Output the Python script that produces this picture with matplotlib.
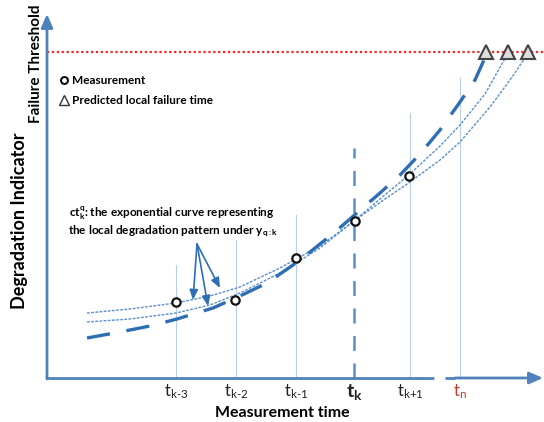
import matplotlib
matplotlib.use("Agg")
import matplotlib.pyplot as plt

plt.rcParams['font.family'] = ['Lato', 'DejaVu Sans']
plt.rcParams['mathtext.fontset'] = 'custom'
plt.rcParams['mathtext.rm'] = 'Lato'
plt.rcParams['mathtext.it'] = 'Lato'
plt.rcParams['mathtext.bf'] = 'Lato:bold'

# Schematic data (time from origin, degradation level above the time axis)
tick_times = [129, 189, 249, 307, 363, 413]
tick_labels = [r'$\mathrm{t_{k\text{-}3}}$', r'$\mathrm{t_{k\text{-}2}}$', r'$\mathrm{t_{k\text{-}1}}$',
               r'$\mathbf{t_k}$', r'$\mathrm{t_{k\text{+}1}}$', r'$\mathrm{t_n}$']
guide_tops = [113, 138, 163, 230, 265, 300]

meas_t = [129, 188, 249, 308, 362]
meas_y = [76, 78, 120, 157, 202]

threshold = 326
fail_t = [439, 461, 481]

# global (thick dashed) degradation curve
glob_t = [40, 73, 103, 130, 166, 193, 220, 246, 263, 288, 311, 333, 353, 373, 393, 413, 428, 437]
glob_y = [40, 46, 52, 59, 70, 82, 95, 113, 126, 146, 166, 185, 203, 224, 248, 276, 298, 318]

# local exponential curves
loc1_t = [40, 83, 129, 163, 193, 233, 273, 307, 333, 363, 393, 413, 438, 460]
loc1_y = [56, 59, 65, 73, 85, 105, 130, 157, 179, 204, 232, 253, 284, 323]
loc2_t = [40, 83, 129, 163, 193, 233, 273, 307, 338, 363, 393, 413, 443, 463, 480]
loc2_y = [65, 69, 75, 82, 91, 110, 132, 157, 179, 196, 218, 236, 271, 298, 323]

axis_blue = '#4f81bd'
curve_blue = '#2f6db5'
dot_blue = '#5a8fd0'
guide_blue = '#b9cfe9'

fig = plt.figure(figsize=(5.44, 4.22), dpi=100)
ax = fig.add_axes([0, 0, 1, 1])
ax.set_xlim(-47, 497)
ax.set_ylim(-44, 378)
ax.axis('off')

# guide lines at measurement times
for t, top, lab in zip(tick_times, guide_tops, tick_labels):
    if lab == r'$\mathbf{t_k}$':
        ax.plot([t, t], [0, top], color=dot_blue, lw=1.8, dashes=(6, 5))
        ax.text(t, -14, lab, ha='center', va='center', fontsize=14, color='#222222')
    elif lab == r'$\mathrm{t_n}$':
        ax.plot([t, t], [0, top], color=guide_blue, lw=0.8)
        ax.text(t, -14, lab, ha='center', va='center', fontsize=12, color='#c0392b')
    else:
        ax.plot([t, t], [0, top], color=guide_blue, lw=0.8)
        ax.text(t, -14, lab, ha='center', va='center', fontsize=12, color='#222222')

# threshold
ax.plot([0, 497], [threshold, threshold], color='#ff2020', lw=1.6, ls=(0, (1, 1.2)))

# curves
ax.plot(loc1_t, loc1_y, color=dot_blue, lw=1.0, ls=(0, (2, 1)))
ax.plot(loc2_t, loc2_y, color=dot_blue, lw=1.0, ls=(0, (2, 1)))
ax.plot(glob_t, glob_y, color=curve_blue, lw=2.4, dashes=(7, 5))

ax.plot(meas_t, meas_y, 'o', ms=6, mfc='white', mec='#111111', mew=1.6, ls='none')
ax.plot(fail_t, [threshold] * 3, '^', ms=9.5, mfc='#dddddd', mec='#444444', mew=1.5, ls='none')

# axes with arrows
head = '-|>,head_width=0.35,head_length=0.8'
ax.annotate('', xy=(0, 364), xytext=(0, -1),
            arrowprops=dict(arrowstyle=head, color=axis_blue, lw=2, shrinkA=0, shrinkB=0))
ax.plot([0, 373], [0, 0], color=axis_blue, lw=2)
ax.plot([373, 408], [0, 0], color=axis_blue, lw=2, dashes=(5, 4))
ax.annotate('', xy=(496, 0), xytext=(408, 0),
            arrowprops=dict(arrowstyle=head, color=axis_blue, lw=2, shrinkA=0, shrinkB=0))

# axis titles
ax.text(235, -35, 'Measurement time', ha='center', va='center', fontsize=11.5, fontweight='bold')
ax.text(-27, 157, 'Degradation Indicator', ha='center', va='center', rotation=90,
        fontsize=13, fontweight='bold')
ax.text(-11, 314, 'Failure Threshold', ha='center', va='center', rotation=90,
        fontsize=11, fontweight='bold')

# legend
ax.plot([17], [298], 'o', ms=5, mfc='white', mec='#111111', mew=1.5)
ax.plot([17], [278], '^', ms=7, mfc='white', mec='#333333', mew=1.0)
ax.text(25, 298, 'Measurement', va='center', fontsize=8.5, fontweight='bold')
ax.text(25, 278, 'Predicted local failure time', va='center', fontsize=8.5, fontweight='bold')

# annotation of local curves
ax.text(22, 165, r'$\mathbf{ct_k^q}$: the exponential curve representing', va='center',
        fontsize=8.5, fontweight='bold')
ax.text(21, 147, r'the local degradation pattern under $\mathbf{y_{q:k}}$', va='center',
        fontsize=8.5, fontweight='bold')
for end in [(146, 78), (161, 72), (173, 90)]:
    ax.annotate('', xy=end, xytext=(150, 134),
                arrowprops=dict(arrowstyle='-|>,head_width=0.25,head_length=0.6',
                                color=curve_blue, lw=1.2, shrinkA=0, shrinkB=0))

fig.savefig('out.png', dpi=100)
